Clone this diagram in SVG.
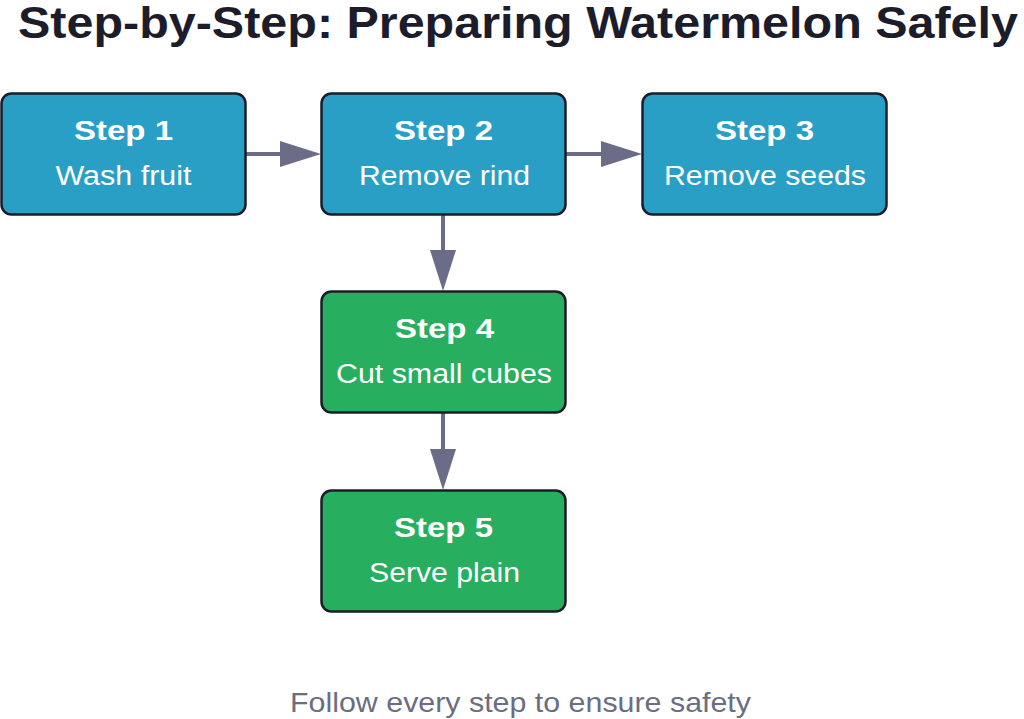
<svg xmlns="http://www.w3.org/2000/svg" width="1024" height="719" viewBox="0 0 1024 719">
<style>
.t{font-family:"Liberation Sans",Arial,sans-serif;font-weight:bold;font-size:44px;fill:#1c1c2b}
.box rect{stroke:#1c1c2b;stroke-width:2.5}
.blue rect{fill:#2a9fc6}
.green rect{fill:#27ae5f}
.h{font-family:"Liberation Sans",Arial,sans-serif;font-weight:bold;font-size:28px;fill:#ffffff;text-anchor:middle}
.s{font-family:"Liberation Sans",Arial,sans-serif;font-size:27px;fill:#ffffff;text-anchor:middle}
.c line{stroke:#6b6d88;stroke-width:4}
.f{font-family:"Liberation Sans",Arial,sans-serif;font-size:28px;fill:#6b6d80;text-anchor:middle}
</style>
<rect width="1024" height="719" fill="#ffffff"/>
<text class="t" x="18" y="38" textLength="1000" lengthAdjust="spacingAndGlyphs">Step-by-Step: Preparing Watermelon Safely</text>
<g class="c">
<line x1="246" y1="154" x2="282" y2="154"/>
<path d="M280,141 L321,154 L280,167 Z" fill="#6b6d88"/>
<line x1="566" y1="154" x2="603" y2="154"/>
<path d="M601,141 L642,154 L601,167 Z" fill="#6b6d88"/>
<line x1="443" y1="215" x2="443" y2="252"/>
<path d="M430,250 L443,291 L456,250 Z" fill="#6b6d88"/>
<line x1="443" y1="413" x2="443" y2="451"/>
<path d="M430,449 L443,490 L456,449 Z" fill="#6b6d88"/>
</g>
<g id="step1" class="box blue">
<rect x="1.5" y="93.5" width="244" height="121" rx="10"/>
<text class="h" x="123.5" y="140" textLength="99" lengthAdjust="spacingAndGlyphs">Step 1</text>
<text class="s" x="123.5" y="185" textLength="136" lengthAdjust="spacingAndGlyphs">Wash fruit</text>
</g>
<g id="step2" class="box blue">
<rect x="321.5" y="93.5" width="244" height="121" rx="10"/>
<text class="h" x="443.5" y="140" textLength="99" lengthAdjust="spacingAndGlyphs">Step 2</text>
<text class="s" x="444.5" y="185" textLength="171" lengthAdjust="spacingAndGlyphs">Remove rind</text>
</g>
<g id="step3" class="box blue">
<rect x="642.5" y="93.5" width="244" height="121" rx="10"/>
<text class="h" x="764.5" y="140" textLength="99" lengthAdjust="spacingAndGlyphs">Step 3</text>
<text class="s" x="765" y="185" textLength="202" lengthAdjust="spacingAndGlyphs">Remove seeds</text>
</g>
<g id="step4" class="box green">
<rect x="321.5" y="291.5" width="244" height="121" rx="10"/>
<text class="h" x="444.5" y="338" textLength="99" lengthAdjust="spacingAndGlyphs">Step 4</text>
<text class="s" x="444" y="383" textLength="216" lengthAdjust="spacingAndGlyphs">Cut small cubes</text>
</g>
<g id="step5" class="box green">
<rect x="321.5" y="490.5" width="244" height="121" rx="10"/>
<text class="h" x="443.5" y="537" textLength="99" lengthAdjust="spacingAndGlyphs">Step 5</text>
<text class="s" x="444.5" y="582" textLength="151" lengthAdjust="spacingAndGlyphs">Serve plain</text>
</g>
<text class="f" x="520.5" y="712" textLength="461" lengthAdjust="spacingAndGlyphs">Follow every step to ensure safety</text>
</svg>
